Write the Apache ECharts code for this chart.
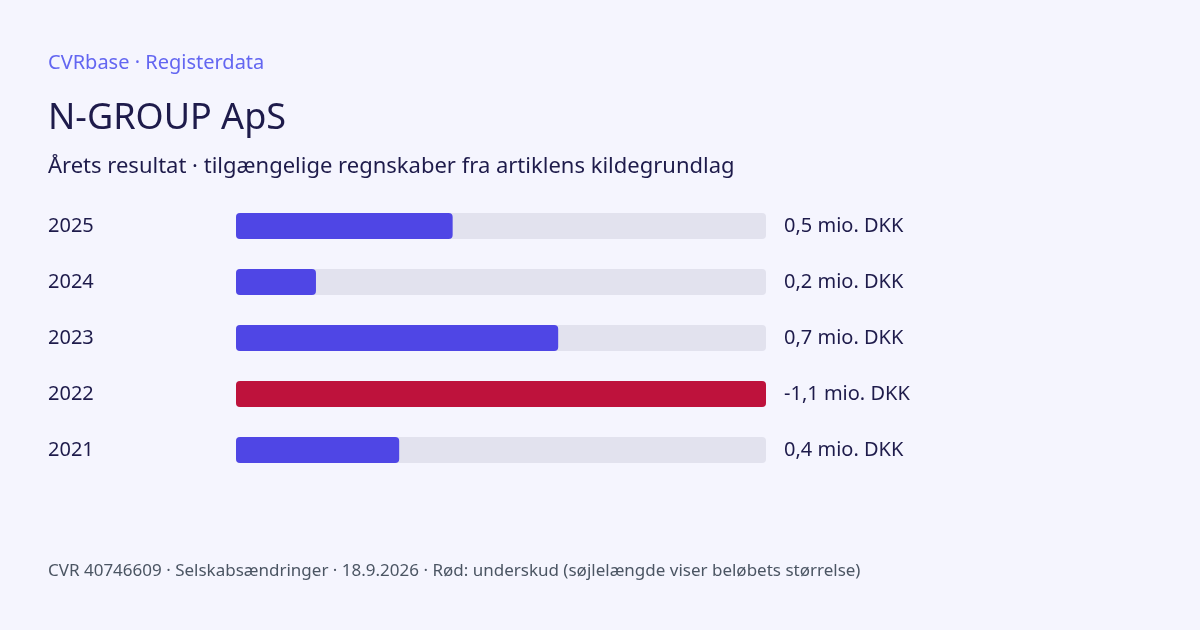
<!DOCTYPE html>
<html><head><meta charset="utf-8">
<script src="https://cdn.jsdelivr.net/npm/echarts@6/dist/echarts.min.js"></script>
<style>html,body{margin:0;padding:0;background:#f5f5fe;}#c{width:1200px;height:630px;}</style>
</head><body><div id="c"></div>
<script>
const years = ['2025', '2024', '2023', '2022', '2021'];
const values = [0.466, 0.172, 0.693, -1.14, 0.351];
const unit = ' mio. DKK';

const valueLabels = values.map(v => v.toFixed(1).replace('.', ',') + unit);
const maxAbs = Math.max(...values.map(v => Math.abs(v)));
const FONT = '"Noto Sans", sans-serif';

const chart = echarts.init(document.getElementById('c'));
chart.setOption({
  backgroundColor: '#f5f5fe',
  animation: false,
  grid: { left: 236, width: 530, top: 198, height: 280 },
  xAxis: { type: 'value', min: 0, max: maxAbs, show: false },
  yAxis: [
    { type: 'category', data: years, inverse: true,
      axisLine: { show: false }, axisTick: { show: false },
      axisLabel: { align: 'left', margin: 188, color: '#1e1b4b', fontSize: 20, fontFamily: FONT, padding: [7, 0, 0, 0] } },
    { type: 'category', data: valueLabels, inverse: true, position: 'right',
      axisLine: { show: false }, axisTick: { show: false },
      axisLabel: { align: 'left', margin: 18, color: '#1e1b4b', fontSize: 20, fontFamily: FONT, padding: [7, 0, 0, 0] } }
  ],
  series: [{
    type: 'bar',
    yAxisIndex: 0,
    barWidth: 26,
    data: values.map(v => ({ value: Math.abs(v), itemStyle: { color: v < 0 ? '#be123c' : '#4f46e5' } })),
    itemStyle: { borderRadius: 4 },
    showBackground: true,
    backgroundStyle: { color: '#e2e2ee', borderRadius: 4 }
  }],
  graphic: [
    { type: 'text', left: 48, top: 53, style: { text: 'CVRbase · Registerdata', font: '20px ' + FONT, fill: '#6366f1' } },
    { type: 'text', left: 48, top: 101, style: { text: 'N-GROUP ApS', font: '36px ' + FONT, fill: '#1e1b4b' } },
    { type: 'text', left: 48, top: 156, style: { text: 'Årets resultat · tilgængelige regnskaber fra artiklens kildegrundlag', font: '22px ' + FONT, fill: '#1e1b4b' } },
    { type: 'text', left: 48, top: 563, style: { text: 'CVR 40746609 · Selskabsændringer · 18.9.2026 · Rød: underskud (søjlelængde viser beløbets størrelse)', font: '17px ' + FONT, fill: '#4b5563' } }
  ]
});
</script></body></html>
